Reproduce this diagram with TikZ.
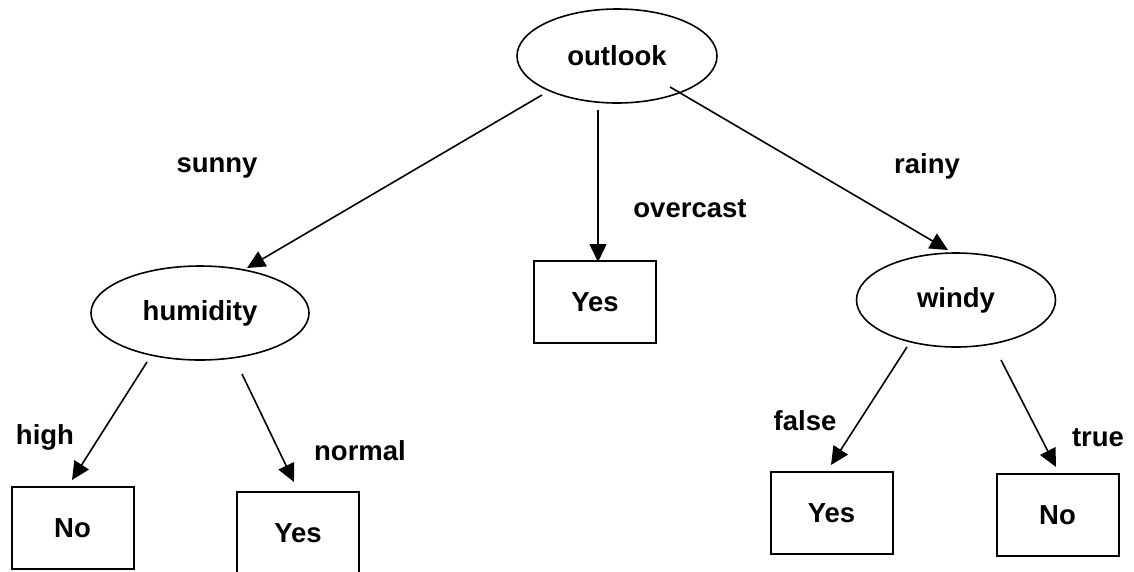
\documentclass[tikz,border=0pt]{standalone}
\usepackage{fontspec}
\setmainfont{Liberation Sans}
\usetikzlibrary{arrows.meta,shapes.geometric}
\begin{document}
\begin{tikzpicture}[x=1pt,y=-1pt,
  every node/.style={font=\fontsize{27.5}{30}\selectfont\bfseries, inner sep=0pt},
  test/.style={draw, line width=1.6pt, ellipse},
  leaf/.style={draw, line width=2pt, rectangle, minimum width=122pt, minimum height=82pt},
  lbl/.style={},
  edge/.style={line width=1.6pt, -{Triangle[length=18pt,width=17pt]}}]
\useasboundingbox (0,0) rectangle (1134,571);
\clip (0,0) rectangle (1134,571);

% decision nodes
\node[test, minimum width=200pt, minimum height=94pt] (outlook) at (617,56) {outlook};
\node[test, minimum width=218pt, minimum height=94pt] (humidity) at (200,313) {humidity};
\node[test, minimum width=199pt, minimum height=94pt] (windy) at (956,300) {windy};

% leaves
\node[leaf] (yesO) at (595,302) {Yes};
\node[leaf] (noH) at (72.5,528) {No};
\node[leaf] (yesH) at (298,533) {Yes};
\node[leaf] (yesW) at (831.5,513) {Yes};
\node[leaf] (noW) at (1057.5,515) {No};

% branch labels
\node[lbl] (sunny) at (217,168) {sunny};
\node[lbl] (overcast) at (690,209) {overcast};
\node[lbl] (rainy) at (927,166) {rainy};
\node[lbl] (high) at (45,437) {high};
\node[lbl] (normal) at (360,451) {normal};
\node[lbl] (false) at (805,421) {false};
\node[lbl] (true) at (1098,438) {true};

% free ends of the branches
\coordinate (o1) at (542,95);
\coordinate (o2) at (598,110);
\coordinate (o3) at (670,87);
\coordinate (h1) at (147,362);
\coordinate (h2) at (242,374);
\coordinate (w1) at (907,347);
\coordinate (w2) at (1001,360);
\coordinate (tH) at (247,268);
\coordinate (tY) at (598,262);
\coordinate (tW) at (948,250);
\coordinate (tNoH) at (72,480);
\coordinate (tYesH) at (294,482);
\coordinate (tYesW) at (831,465);
\coordinate (tNoW) at (1056,467);

\draw[edge] (o1) -- (tH);
\draw[edge] (o2) -- (tY);
\draw[edge] (o3) -- (tW);
\draw[edge] (h1) -- (tNoH);
\draw[edge] (h2) -- (tYesH);
\draw[edge] (w1) -- (tYesW);
\draw[edge] (w2) -- (tNoW);
\end{tikzpicture}
\end{document}
